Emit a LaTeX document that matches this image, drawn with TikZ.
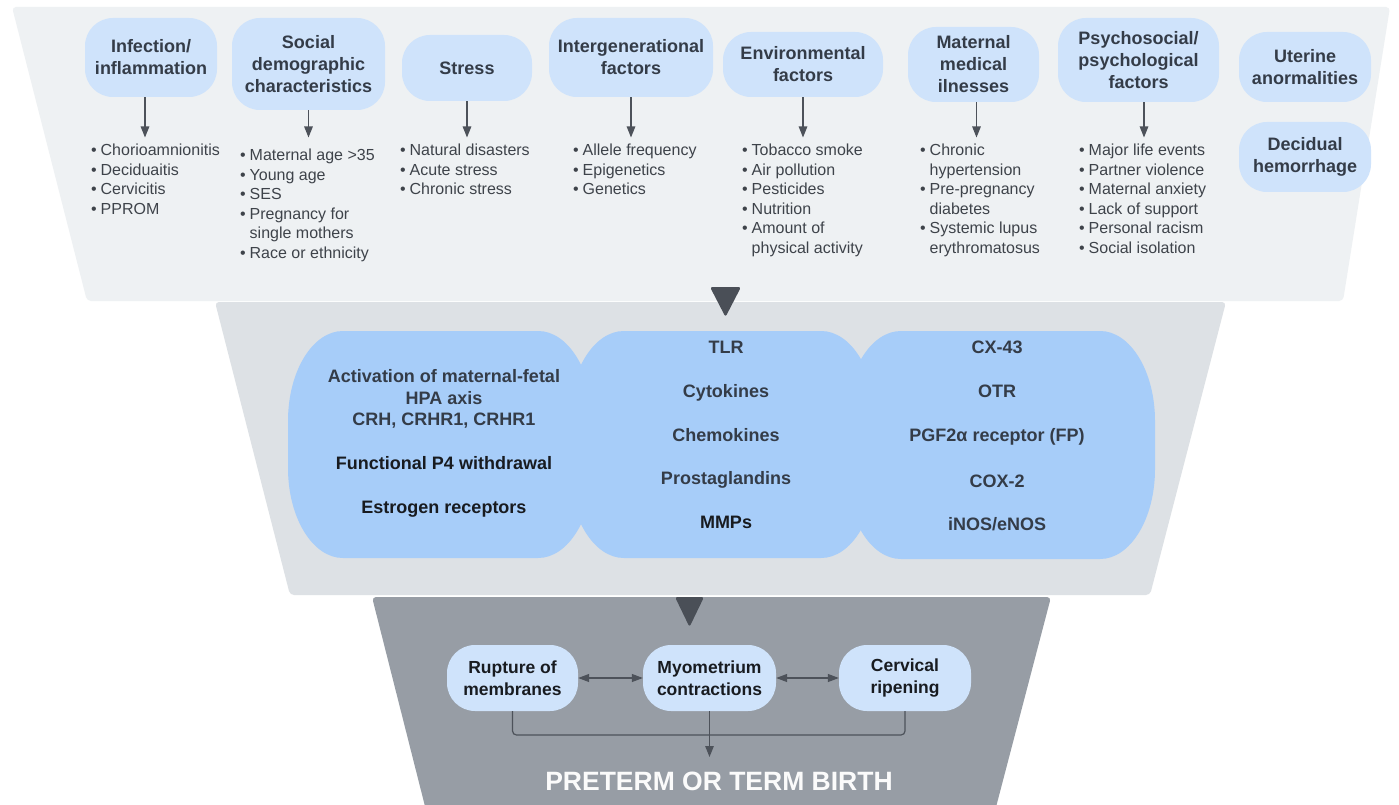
\documentclass[tikz,border=0pt]{standalone}
\usepackage{fontspec}
\setmainfont{Liberation Sans}
\usetikzlibrary{arrows.meta}
\definecolor{topfill}{HTML}{EEF1F3}
\definecolor{midfill}{HTML}{DDE1E5}
\definecolor{botfill}{HTML}{979DA5}
\definecolor{boxfill}{HTML}{CFE3FB}
\definecolor{lobefill}{HTML}{A7CDF9}
\definecolor{tricol}{HTML}{4A4F57}
\definecolor{arrcol}{HTML}{4D525A}
\definecolor{titletext}{HTML}{343C48}
\definecolor{bultext}{HTML}{3E434A}
\definecolor{lobetext}{HTML}{343C48}
\definecolor{darktext}{HTML}{181B20}
\newcommand\bu{\makebox[9.5pt][l]{•}}
\newcommand\bi{\hspace*{9.5pt}}
\newcommand\lobe[4]{%
\fill[lobefill] ({#1+55},#2) -- ({#3-55},#2) .. controls ({#3-24.6},#2) and (#3,{#2+40.3}) .. (#3,{#2+90}) -- (#3,{#4-90}) .. controls (#3,{#4-40.3}) and ({#3-24.6},#4) .. ({#3-55},#4) -- ({#1+55},#4) .. controls ({#1+24.6},#4) and (#1,{#4-40.3}) .. (#1,{#4-90}) -- (#1,{#2+90}) .. controls (#1,{#2+40.3}) and ({#1+24.6},#2) .. ({#1+55},#2) -- cycle;}
\begin{document}
\begin{tikzpicture}[x=1pt,y=-1pt,
  tbox/.style={fill=boxfill, rounded corners=28pt, align=center, inner sep=0pt,
    font=\fontsize{18}{22}\selectfont\bfseries, text=titletext},
  blist/.style={anchor=north west, align=left, inner sep=0pt,
    font=\fontsize{16}{19.5}\selectfont, text=bultext},
  ltext/.style={align=center, inner sep=0pt, text height=13pt, text depth=0pt,
    font=\fontsize{18}{21.5}\selectfont\bfseries, text=lobetext},
  bbox/.style={fill=boxfill, rounded corners=28pt, align=center, inner sep=0pt,
    minimum height=66pt, font=\fontsize{17.5}{22}\selectfont\bfseries, text=darktext},
  arr/.style={draw=arrcol, line width=1.2pt, -{Triangle[length=11pt,width=8.5pt]}},
  darr/.style={draw=arrcol, line width=1.2pt, {Triangle[length=11pt,width=8pt]}-{Triangle[length=11pt,width=8pt]}},
  bus/.style={draw=arrcol, line width=1.2pt, rounded corners=4pt},
  tri/.style={fill=tricol, rounded corners=2.5pt}]
\useasboundingbox (0,0) rectangle (1399,805);
\fill[white] (0,0) rectangle (1399,805);
% panels
\fill[topfill, rounded corners=4pt] (12,7) -- (1390,7) -- (1343,301) -- (87,301) -- cycle;
\fill[midfill, rounded corners=4pt] (215,302) -- (1226,302) -- (1150,595) -- (290,595) -- cycle;
\fill[botfill, rounded corners=4pt] (372,597) -- (1051,597) -- (990,830) -- (431,830) -- cycle;
% funnel triangles
\fill[tri] (710,287) -- (741,287) -- (725.5,317) -- cycle;
\fill[tri] (675,597) -- (704,597) -- (689.5,627) -- cycle;
% top factor boxes
\node[tbox, minimum width=132pt, minimum height=79pt] (inf) at (151,57.5) {Infection/\\inflammation};
\node[tbox, minimum width=153pt, minimum height=92pt] (soc) at (308.5,64) {Social\\demographic\\characteristics};
\node[tbox, minimum width=130pt, minimum height=66pt] (str) at (467,68) {Stress};
\node[tbox, minimum width=164pt, minimum height=79pt] (gen) at (631,57.5) {Intergenerational\\factors};
\node[tbox, minimum width=160pt, minimum height=65pt] (env) at (803,64.5) {Environmental\\factors};
\node[tbox, minimum width=131pt, minimum height=75pt] (mat) at (973.5,64.5) {Maternal\\medical\\ilnesses};
\node[tbox, minimum width=161pt, minimum height=84pt] (psy) at (1138.5,60) {Psychosocial/\\psychological\\factors};
\node[tbox, minimum width=132pt, minimum height=70pt] (ute) at (1305,67) {Uterine\\anormalities};
\node[tbox, minimum width=132pt, minimum height=70pt] (dec) at (1305,157) {Decidual\\hemorrhage};
% bullet lists
\node[blist] (infl) at (91,143.5) {\rule{0pt}{12pt}\bu Chorioamnionitis\\\bu Deciduaitis\\\bu Cervicitis\\\bu PPROM};
\node[blist] (socl) at (240,148.5) {\rule{0pt}{12pt}\bu Maternal age >35\\\bu Young age\\\bu SES\\\bu Pregnancy for\\\bi single mothers\\\bu Race or ethnicity};
\node[blist] (strl) at (400,143.5) {\rule{0pt}{12pt}\bu Natural disasters\\\bu Acute stress\\\bu Chronic stress};
\node[blist] (genl) at (573,143.5) {\rule{0pt}{12pt}\bu Allele frequency\\\bu Epigenetics\\\bu Genetics};
\node[blist] (envl) at (742,143.5) {\rule{0pt}{12pt}\bu Tobacco smoke\\\bu Air pollution\\\bu Pesticides\\\bu Nutrition\\\bu Amount of\\\bi physical activity};
\node[blist] (matl) at (920,143.5) {\rule{0pt}{12pt}\bu Chronic\\\bi hypertension\\\bu Pre-pregnancy\\\bi diabetes\\\bu Systemic lupus\\\bi erythromatosus};
\node[blist] (psyl) at (1079,143.5) {\rule{0pt}{12pt}\bu Major life events\\\bu Partner violence\\\bu Maternal anxiety\\\bu Lack of support\\\bu Personal racism\\\bu Social isolation};
% arrows to lists
\draw[arr, shorten >=6pt] ([xshift=-6pt]inf.south) -- ([xshift=-6pt]inf.south |- infl.north);
\draw[arr, shorten >=11pt] (soc.south) -- (soc.south |- socl.north);
\draw[arr, shorten >=6pt] (str.south) -- (str.south |- strl.north);
\draw[arr, shorten >=6pt] (gen.south) -- (gen.south |- genl.north);
\draw[arr, shorten >=6pt] (env.south) -- (env.south |- envl.north);
\draw[arr, shorten >=6pt] ([xshift=3pt]mat.south) -- ([xshift=3pt]mat.south |- matl.north);
\draw[arr, shorten >=6pt] ([xshift=5.5pt]psy.south) -- ([xshift=5.5pt]psy.south |- psyl.north);
% middle lobes
\lobe{288}{331}{593}{558}
\lobe{569}{331}{876}{558}
\lobe{846}{331}{1155}{559}
\node[align=center, inner sep=0pt, font=\fontsize{18}{21.5}\selectfont\bfseries, text=lobetext] (hpa) at (444,399) {Activation of maternal-fetal\\HPA axis\\CRH, CRHR1, CRHR1};
\node[ltext, text=darktext] (p4) at (444,463) {Functional P4 withdrawal};
\node[ltext, text=darktext] (est) at (444,507) {Estrogen receptors};
\node[ltext] (tlr) at (726,347) {TLR};
\node[ltext] (cyt) at (726,391) {Cytokines};
\node[ltext] (che) at (726,435) {Chemokines};
\node[ltext] (pro) at (726,478) {Prostaglandins};
\node[ltext, text=darktext] (mmp) at (726,522) {MMPs};
\node[ltext] (cx) at (997,347) {CX-43};
\node[ltext] (otr) at (997,391) {OTR};
\node[ltext] (pgf) at (997,435) {PGF2α receptor (FP)};
\node[ltext] (cox) at (997,481) {COX-2};
\node[ltext] (nos) at (997,524) {iNOS/eNOS};
% bottom boxes
\node[bbox, minimum width=131pt] (rup) at (512.5,678) {Rupture of\\membranes};
\node[bbox, minimum width=133pt] (myo) at (709.5,678) {Myometrium\\contractions};
\node[bbox, minimum width=132pt] (cer) at (905,678) {Cervical\\ripening};
\draw[darr] (rup.east) -- (myo.west);
\draw[darr] (myo.east) -- (cer.west);
\coordinate (busmid) at (709.5,735);
\coordinate (birthin) at (709.5,757);
\draw[bus] (rup.south) |- (busmid) -| (cer.south);
\draw[arr] (myo.south) -- (birthin);
\node[inner sep=0pt, text height=19pt, text depth=0pt, font=\fontsize{26.5}{30}\selectfont\bfseries, text=white!96!botfill] (birth) at (719,781) {PRETERM OR TERM BIRTH};
\end{tikzpicture}
\end{document}
